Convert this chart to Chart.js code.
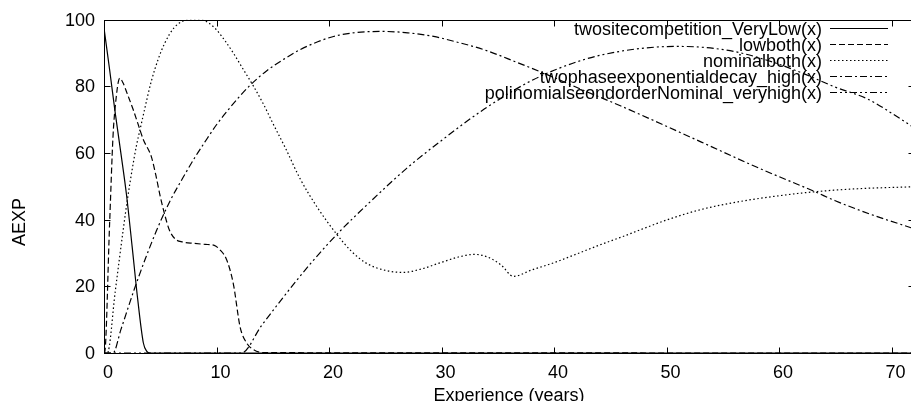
<!DOCTYPE html>
<html>
<head>
<meta charset="utf-8">
<script src="https://cdn.jsdelivr.net/npm/chart.js@4"></script>
<style>
  html, body { margin: 0; padding: 0; background: #fff; overflow: hidden; }
  #wrap { width: 911px; height: 401px; overflow: hidden; }
  canvas { display: block; }
</style>
</head>
<body>
<div id="wrap"><canvas id="chart" width="924" height="401"></canvas></div>
<script>
/* gnuplot-style AEXP vs experience curves */

const FONT = "'Liberation Sans', Arial, Helvetica, sans-serif";

// ── Data ──────────────────────────────────────────────────────────────────────
const xTicks = [0, 10, 20, 30, 40, 50, 60, 70];
const yTicks = [0, 20, 40, 60, 80, 100];
const xTitle = "Experience (years)";
const yTitle = "AEXP";

const seriesNames = [
  "twositecompetition_VeryLow(x)",
  "lowboth(x)",
  "nominalboth(x)",
  "twophaseexponentialdecay_high(x)",
  "polinomialseondorderNominal_veryhigh(x)",
];

const twositeX = [0, 0.5, 1, 1.5, 2, 2.5, 3, 3.5, 3.8, 4.1, 72];
const twositeY = [97.5, 85, 72, 60, 47.5, 32, 16, 3, 0.5, 0, 0];

const lowbothX = [0, 0.05, 0.5, 0.8, 1, 1.4, 1.7, 2.1, 2.6, 3, 3.5, 4.2, 4.6, 5, 5.4, 5.8, 6.3, 7, 8, 9, 9.8, 10.3, 10.9, 11.5, 12.1, 12.7, 13.3, 14.2, 72];
const lowbothY = [0, 0, 39, 65, 74, 82.5, 81, 77.5, 73, 69, 64, 59, 53.5, 47, 41.5, 37, 34.3, 33.3, 32.9, 32.6, 32.3, 31, 28, 20.7, 7.8, 2.9, 1, 0.1, 0];

const nominalX = [0, 0.3, 1, 1.7, 2.1, 2.5, 2.9, 3.2, 3.6, 4.2, 4.8, 5.4, 6.2, 7, 7.8, 8.6, 9.2, 10, 10.8, 11.5, 12.4, 13.3, 14.2, 15, 16.2, 17.4, 19, 20.7, 22, 23.4, 25, 26.6, 28.2, 29.9, 31.5, 32.9, 34.1, 35.3, 36.4, 38, 40, 42, 44.2, 46, 48, 50, 53, 56.6, 60, 63.2, 67, 72];
const nominalY = [0, 0, 18.5, 36.8, 46.5, 55, 62.5, 67, 73, 81.5, 88, 93, 97.5, 99.6, 100, 100, 99.3, 97, 93.5, 90, 85, 80, 74.5, 69, 61, 52.5, 43.5, 35.6, 30.5, 26.8, 24.8, 24.2, 25.2, 27.1, 28.8, 29.6, 28.8, 26.4, 23, 24.9, 27.1, 29.7, 32.6, 34.8, 37.4, 39.9, 43, 45.5, 47.2, 48.4, 49.3, 49.9];

const twophaseX = [0, 0.8, 1.5, 2.7, 3.7, 4.65, 5.85, 7, 8.1, 9.1, 10, 11, 12, 13, 14.5, 16, 17.4, 19, 20.4, 22.5, 24.8, 27, 29.3, 31.5, 33.8, 36.5, 39.7, 42.5, 45.9, 49.5, 53.1, 58, 63.2, 65, 68, 72];
const twophaseY = [0, 0, 7, 19.2, 28.5, 36.6, 45.5, 52.5, 58.8, 64, 68.5, 72.8, 76.8, 80.4, 84.8, 88.2, 91, 93.4, 95, 96.2, 96.5, 96.1, 95, 93.2, 91, 87.5, 83.1, 79, 74.2, 68.8, 63.3, 55.8, 48.4, 45.7, 41.8, 37.3];

const polyX = [0, 12.2, 14, 16, 18.3, 20.7, 23.7, 26.9, 30.2, 33.8, 38.2, 42.7, 46, 49, 51, 53, 56, 59, 62, 65, 67.9, 70, 72];
const polyY = [0, 0, 8.2, 17, 26.6, 35.6, 45.5, 55.4, 64.3, 73.2, 82.1, 88.1, 90.6, 91.8, 92, 91.8, 90.5, 87.8, 84.1, 79.8, 76.2, 72, 67.6];

// gnuplot line types 1..5
const dashes = [[], [6, 3], [1.5, 2.5], [7, 3, 2, 3], [7, 3, 2, 3, 2, 3]];

const pts = (xs, ys) => xs.map((x, i) => ({ x, y: ys[i] }));
const series = [
  pts(twositeX, twositeY),
  pts(lowbothX, lowbothY),
  pts(nominalX, nominalY),
  pts(twophaseX, twophaseY),
  pts(polyX, polyY),
];

// ── Plugins ───────────────────────────────────────────────────────────────────
// border box with inward (and mirrored) ticks, plus axis titles
const gnuFrame = {
  id: "gnuFrame",
  beforeDatasetsDraw(chart) {
    const { ctx, chartArea: a, scales: { x, y } } = chart;
    const L = Math.round(a.left) + 0.5, R = Math.round(a.right) + 0.5;
    const T = Math.round(a.top) + 0.5,  B = Math.round(a.bottom) + 0.5;
    ctx.save();
    ctx.strokeStyle = "#000";
    ctx.lineWidth = 1;
    ctx.strokeRect(L, T, R - L, B - T);
    ctx.beginPath();
    xTicks.forEach(v => {
      const px = Math.round(x.getPixelForValue(v)) + 0.5;
      ctx.moveTo(px, B); ctx.lineTo(px, B - 6);
      ctx.moveTo(px, T); ctx.lineTo(px, T + 6);
    });
    yTicks.forEach(v => {
      const py = Math.round(y.getPixelForValue(v)) + 0.5;
      ctx.moveTo(L, py); ctx.lineTo(L + 6, py);
      ctx.moveTo(R, py); ctx.lineTo(R - 6, py);
    });
    ctx.stroke();

    ctx.fillStyle = "#000";
    ctx.font = `18px ${FONT}`;
    ctx.textAlign = "center";
    ctx.textBaseline = "alphabetic";
    ctx.fillText(xTitle, (a.left + a.right) / 2, 401);
    ctx.translate(24.8, 222);
    ctx.rotate(-Math.PI / 2);
    ctx.fillText(yTitle, 0, 0);
    ctx.restore();
  },
};

// key in the top-right corner: right-aligned text, then a line sample
const gnuLegend = {
  id: "gnuLegend",
  afterDatasetsDraw(chart) {
    const { ctx } = chart;
    ctx.save();
    ctx.font = `18px ${FONT}`;
    ctx.fillStyle = "#000";
    ctx.textAlign = "right";
    ctx.textBaseline = "alphabetic";
    chart.data.datasets.forEach((ds, i) => {
      const yy = 28 + 16 * i;
      ctx.fillText(ds.label, 822, yy + 7);
      ctx.beginPath();
      ctx.setLineDash(ds.borderDash);
      ctx.lineWidth = ds.borderWidth;
      ctx.strokeStyle = ds.borderColor;
      ctx.moveTo(830, yy + 0.5);
      ctx.lineTo(888, yy + 0.5);
      ctx.stroke();
    });
    ctx.restore();
  },
};

// ── Chart ─────────────────────────────────────────────────────────────────────
const tickFont = { family: FONT, size: 18 };

new Chart(document.getElementById("chart"), {
  type: "line",
  data: {
    datasets: series.map((data, i) => ({
      label: seriesNames[i],
      data,
      borderColor: "#000",
      borderWidth: 1.2,
      borderDash: dashes[i],
      pointRadius: 0,
      fill: false,
      cubicInterpolationMode: "monotone",
    })),
  },
  options: {
    responsive: false,
    animation: false,
    devicePixelRatio: 1,
    layout: { padding: { top: 17, right: 10, left: 0, bottom: 0 } },
    plugins: { legend: { display: false }, tooltip: { enabled: false } },
    scales: {
      x: {
        type: "linear",
        min: 0, max: 72,
        afterFit: s => { s.height = 48; },
        afterBuildTicks: s => { s.ticks = xTicks.map(v => ({ value: v })); },
        grid: { display: false, drawTicks: false },
        border: { display: false },
        ticks: { font: tickFont, color: "#000", padding: 9, labelOffset: 4, maxRotation: 0, autoSkip: false },
      },
      y: {
        type: "linear",
        min: 0, max: 100,
        afterFit: s => { s.width = 104; },
        afterBuildTicks: s => { s.ticks = yTicks.map(v => ({ value: v })); },
        grid: { display: false, drawTicks: false },
        border: { display: false },
        ticks: { font: tickFont, color: "#000", padding: 9, labelOffset: 1 },
      },
    },
  },
  plugins: [gnuFrame, gnuLegend],
});
</script>
</body>
</html>
